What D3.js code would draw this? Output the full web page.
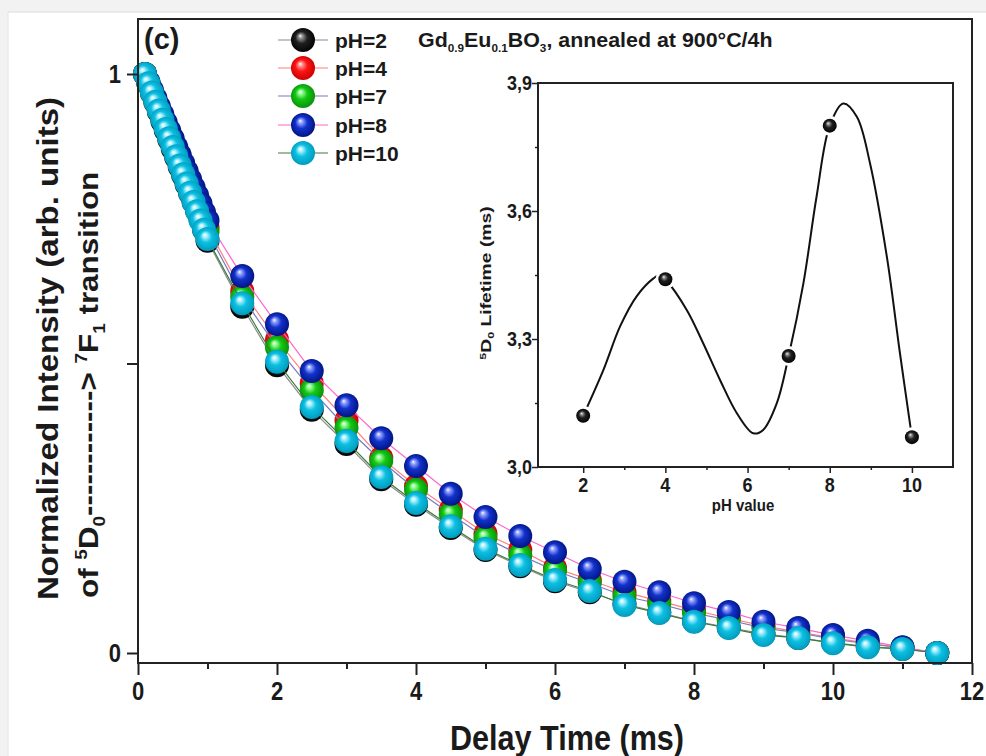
<!DOCTYPE html>
<html><head><meta charset="utf-8">
<script src="https://cdn.jsdelivr.net/npm/d3@7"></script>
<style>body{margin:0;background:#f2f2f2}svg{display:block}</style>
</head><body>
<svg id="c" width="986" height="756"></svg>
<script>
// ---------------- DATA ----------------
const delayTime = [0.1,0.15,0.2,0.25,0.3,0.35,0.4,0.45,0.5,0.55,0.6,0.65,0.7,0.75,0.8,0.85,0.9,0.95,1.0,
  1.5,2,2.5,3,3.5,4,4.5,5,5.5,6,6.5,7,7.5,8,8.5,9,9.5,10,10.5,11,11.5];
const seriesNames = ["pH=2","pH=4","pH=7","pH=8","pH=10"];
const intensityPH2 = [1.000,0.983,0.967,0.951,0.935,0.919,0.903,0.887,0.871,0.856,0.840,0.825,0.809,0.794,0.779,0.764,0.749,0.731,0.712,
  0.598,0.497,0.420,0.361,0.300,0.256,0.216,0.178,0.150,0.124,0.105,0.085,0.070,0.055,0.044,0.033,0.026,0.018,0.011,0.007,0.000];
const intensityPH4 = [1.000,0.985,0.970,0.955,0.940,0.925,0.910,0.895,0.880,0.866,0.851,0.837,0.822,0.808,0.793,0.778,0.764,0.749,0.735,
  0.625,0.541,0.466,0.402,0.337,0.288,0.247,0.206,0.178,0.147,0.126,0.105,0.090,0.074,0.060,0.047,0.036,0.026,0.017,0.009,0.000];
const intensityPH7 = [1.000,0.984,0.969,0.954,0.938,0.923,0.908,0.892,0.877,0.862,0.847,0.832,0.817,0.802,0.787,0.772,0.757,0.743,0.728,
  0.615,0.528,0.454,0.389,0.332,0.282,0.240,0.199,0.169,0.142,0.121,0.098,0.085,0.069,0.057,0.043,0.035,0.024,0.016,0.009,0.000];
const intensityPH8 = [1.000,0.986,0.972,0.958,0.944,0.930,0.916,0.902,0.888,0.874,0.860,0.846,0.832,0.818,0.804,0.790,0.776,0.761,0.747,
  0.651,0.568,0.487,0.428,0.371,0.323,0.275,0.235,0.202,0.174,0.145,0.123,0.105,0.086,0.071,0.054,0.043,0.031,0.021,0.010,0.000];
const intensityPH10 = [1.000,0.984,0.968,0.952,0.937,0.921,0.905,0.889,0.874,0.858,0.842,0.827,0.811,0.795,0.779,0.763,0.747,0.731,0.715,
  0.604,0.503,0.425,0.366,0.304,0.259,0.219,0.180,0.152,0.126,0.107,0.083,0.069,0.054,0.043,0.031,0.026,0.017,0.010,0.007,0.000];
const xTicksMajor = [0,2,4,6,8,10,12];
const xTicksMinor = [1,3,5,7,9,11];
const yTicks = [0,0.5,1];
const yTickLabels = ["0","","1"];

const insetPH = [2,4,7,8,10];
const insetLifetime = [3.12,3.44,3.26,3.80,3.07];
// spline curve
const insetCurvePH = [2.0,2.49,2.90,3.30,3.71,3.87,4.0,4.52,4.92,5.33,5.74,6.14,6.38,6.71,7.0,7.36,7.68,8.0,8.33,8.66,8.98,9.39,9.71,10.0];
const insetCurveLifetime = [3.12,3.227,3.330,3.400,3.442,3.450,3.44,3.368,3.290,3.204,3.126,3.079,3.087,3.149,3.26,3.431,3.634,3.80,3.852,3.821,3.712,3.493,3.266,3.07];
const insetXTicks = [2,4,6,8,10];
const insetXMinor = [3,5,7,9];
const insetYTicks = [3.0,3.3,3.6,3.9];
const insetYTickLabels = ["3,0","3,3","3,6","3,9"];
const insetYMinor = [3.15,3.45,3.75];

// ---------------- STYLE ----------------
const sphereColors = [
  {light:"#9a9a9a", base:"#202020", dark:"#000000", line:"#8c8c8c"},
  {light:"#ff9a9a", base:"#ff1414", dark:"#c40000", line:"#ff8080"},
  {light:"#9cff9c", base:"#14c814", dark:"#088a08", line:"#7a7ac0"},
  {light:"#9aa8ff", base:"#1232cc", dark:"#001078", line:"#ff66cc"},
  {light:"#b8f4ff", base:"#0cc0e2", dark:"#0096b8", line:"#3a7a3a"}
];
const FONT = "'Liberation Sans', Arial, sans-serif";
const AX = "#222";

const svg = d3.select("#c");
const defs = svg.append("defs");
sphereColors.forEach((c,i)=>{
  const g = defs.append("radialGradient").attr("id","sph"+i)
    .attr("cx","50%").attr("cy","50%").attr("r","55%").attr("fx","38%").attr("fy","32%");
  g.append("stop").attr("offset","0%").attr("stop-color","#ffffff");
  g.append("stop").attr("offset","14%").attr("stop-color",c.light);
  g.append("stop").attr("offset","45%").attr("stop-color",c.base);
  g.append("stop").attr("offset","100%").attr("stop-color",c.dark);
});

// page frame
svg.append("rect").attr("x",0).attr("y",0).attr("width",986).attr("height",756).attr("fill","#f2f2f2");
svg.append("rect").attr("x",8).attr("y",12).attr("width",978).attr("height",744).attr("fill","#ffffff");
svg.append("line").attr("x1",8).attr("x2",986).attr("y1",12).attr("y2",12).attr("stroke","#dcdcdc");
svg.append("line").attr("x1",8).attr("x2",8).attr("y1",12).attr("y2",756).attr("stroke","#e4e4e4");

function T(parent, x, y, size, anchor, sx, sy, rot){
  return parent.append("text")
    .attr("transform",`translate(${x},${y})${rot?` rotate(${rot})`:""} scale(${sx},${sy})`)
    .attr("font-size",size).attr("font-weight","bold").attr("font-family",FONT)
    .attr("text-anchor",anchor).attr("fill","#1a1a1a");
}

// ---------------- MAIN CHART ----------------
const x = d3.scaleLinear().domain([0,12]).range([138,972]);
const y = d3.scaleLinear().domain([0,1]).range([653,74]);
const plotTop = 19, plotBottom = 663;

const series = [intensityPH2,intensityPH4,intensityPH7,intensityPH8,intensityPH10];
const lineGen = d3.line().x((d,i)=>x(delayTime[i])).y(d=>y(d));
series.forEach((vals,si)=>{
  const g = svg.append("g");
  g.append("path").attr("d",lineGen(vals)).attr("fill","none")
    .attr("stroke",sphereColors[si].line).attr("stroke-width",1.2);
  g.selectAll("circle").data(vals).join("circle")
    .attr("cx",(d,i)=>x(delayTime[i])).attr("cy",d=>y(d)).attr("r",12)
    .attr("fill",`url(#sph${si})`);
});

// axes
const xAxisMajor = d3.axisBottom(x).tickValues(xTicksMajor).tickSize(12).tickFormat("");
const xAxisMinor = d3.axisBottom(x).tickValues(xTicksMinor).tickSize(6).tickFormat("");
const yAxis = d3.axisLeft(y).tickValues(yTicks).tickSize(11).tickFormat("");
[svg.append("g").attr("transform",`translate(0,${plotBottom})`).call(xAxisMajor),
 svg.append("g").attr("transform",`translate(0,${plotBottom})`).call(xAxisMinor),
 svg.append("g").attr("transform",`translate(138,0)`).call(yAxis)].forEach(g=>{
  g.select(".domain").remove();
  g.selectAll("line").attr("stroke",AX).attr("stroke-width",2);
});
// frame
svg.append("rect").attr("x",138).attr("y",plotTop).attr("width",972-138).attr("height",plotBottom-plotTop)
  .attr("fill","none").attr("stroke",AX).attr("stroke-width",2);

xTicksMajor.forEach(v=>T(svg,x(v),700,22,"middle",1,1.15).text(v));
yTicks.forEach((v,i)=>{ if(yTickLabels[i]) T(svg,121,y(v)+9,22,"end",1,1.15).text(yTickLabels[i]); });

T(svg,567,750,30,"middle",1.02,1.15).text("Delay Time (ms)");
T(svg,58,600,29,"start",1.14,1,-90).text("Normalized Intensity (arb. units)");
const yl2 = T(svg,98,598,28,"start",1.12,1,-90);
yl2.append("tspan").text("of ");
yl2.append("tspan").attr("font-size",17).attr("dy",-11).text("5");
yl2.append("tspan").attr("dy",11).text("D");
yl2.append("tspan").attr("font-size",17).attr("dy",7).text("0");
yl2.append("tspan").attr("dy",-7).text("------------> ");
yl2.append("tspan").attr("font-size",17).attr("dy",-11).text("7");
yl2.append("tspan").attr("dy",11).text("F");
yl2.append("tspan").attr("font-size",17).attr("dy",7).text("1");
yl2.append("tspan").attr("dy",-7).text(" transition");

T(svg,144,49,29,"start",1,1).text("(c)");

// legend
const legY = [40,68,96,125,153];
seriesNames.forEach((n,i)=>{
  svg.append("line").attr("x1",278).attr("x2",328).attr("y1",legY[i]).attr("y2",legY[i])
    .attr("stroke",sphereColors[i].line).attr("stroke-width",1.2);
  svg.append("circle").attr("cx",303).attr("cy",legY[i]).attr("r",12).attr("fill",`url(#sph${i})`);
  T(svg,335,legY[i]+8,21,"start",1,1).text(n);
});

// title
const ti = T(svg,418,47,20,"start",1.07,1.05);
ti.append("tspan").text("Gd");
ti.append("tspan").attr("font-size",11).attr("dy",5).text("0.9");
ti.append("tspan").attr("dy",-5).text("Eu");
ti.append("tspan").attr("font-size",11).attr("dy",5).text("0.1");
ti.append("tspan").attr("dy",-5).text("BO");
ti.append("tspan").attr("font-size",11).attr("dy",5).text("3");
ti.append("tspan").attr("dy",-5).text(", annealed at 900°C/4h");

// ---------------- INSET ----------------
const ix = d3.scaleLinear().domain([0.9,11]).range([538,953]);
const iy = d3.scaleLinear().domain([3.0,3.9]).range([467,83]);
const inset = svg.append("g");
const ixMaj = d3.axisBottom(ix).tickValues(insetXTicks).tickSize(6).tickFormat("");
const ixMin = d3.axisBottom(ix).tickValues(insetXMinor).tickSize(3).tickFormat("");
const iyMaj = d3.axisLeft(iy).tickValues(insetYTicks).tickSize(6).tickFormat("");
const iyMin = d3.axisLeft(iy).tickValues(insetYMinor).tickSize(3).tickFormat("");
[inset.append("g").attr("transform","translate(0,467)").call(ixMaj),
 inset.append("g").attr("transform","translate(0,467)").call(ixMin),
 inset.append("g").attr("transform","translate(538,0)").call(iyMaj),
 inset.append("g").attr("transform","translate(538,0)").call(iyMin)].forEach(g=>{
  g.select(".domain").remove();
  g.selectAll("line").attr("stroke",AX).attr("stroke-width",1.5);
});
inset.append("rect").attr("x",538).attr("y",83).attr("width",953-538).attr("height",467-83)
  .attr("fill","none").attr("stroke",AX).attr("stroke-width",2);

const spline = d3.line().x((d,i)=>ix(insetCurvePH[i])).y(d=>iy(d)).curve(d3.curveCatmullRom.alpha(0.5));
inset.append("path").attr("d",spline(insetCurveLifetime)).attr("fill","none").attr("stroke","#111").attr("stroke-width",2);
inset.selectAll("circle.halo").data(insetLifetime).join("circle").attr("class","halo")
  .attr("cx",(d,i)=>ix(insetPH[i])).attr("cy",d=>iy(d)).attr("r",10).attr("fill","#fff");
inset.selectAll("circle.pt").data(insetLifetime).join("circle").attr("class","pt")
  .attr("cx",(d,i)=>ix(insetPH[i])).attr("cy",d=>iy(d)).attr("r",7).attr("fill","url(#sph0)");

insetXTicks.forEach(v=>T(inset,ix(v),492,18,"middle",1,1.12).text(v));
insetYTicks.forEach((v,i)=>T(inset,532,iy(v)+7,18,"end",1,1.15).text(insetYTickLabels[i]));
T(inset,743,511,15,"middle",1,1.05).text("pH value");
const il = T(inset,491,283,14,"middle",1.38,1,-90);
il.append("tspan").attr("font-size",9).attr("dy",-5).text("5");
il.append("tspan").attr("dy",5).text("D");
il.append("tspan").attr("font-size",9).attr("dy",3).text("0");
il.append("tspan").attr("dy",-3).text(" Lifetime (ms)");
</script>
</body></html>
